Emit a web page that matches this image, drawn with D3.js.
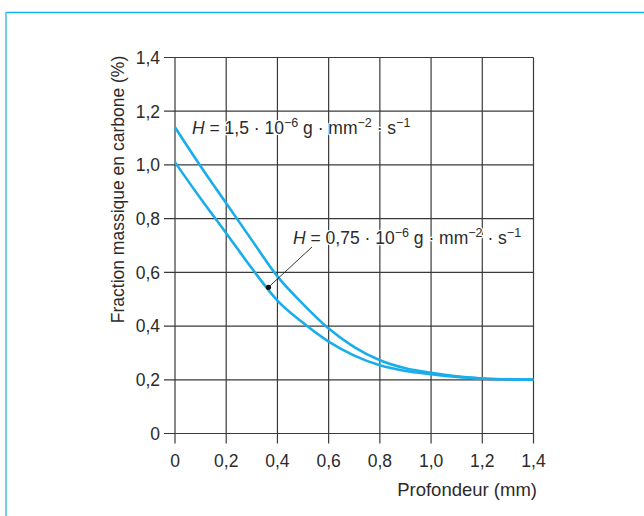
<!DOCTYPE html>
<html>
<head>
<meta charset="utf-8">
<script src="https://cdn.jsdelivr.net/npm/d3@7"></script>
<style>
  html, body { margin: 0; padding: 0; background: #fff; }
  svg { display: block; }
  text { font-family: "Liberation Sans", Arial, sans-serif; fill: #2b2b2b; }
</style>
</head>
<body>
<svg id="chart" width="644" height="516"></svg>
<script>
// Depth (mm) at which the carbon fraction is sampled
const depth = [0, 0.1, 0.2, 0.3, 0.4, 0.5, 0.6, 0.7, 0.8, 0.9, 1.0, 1.1, 1.2, 1.3, 1.4];
// Carbon mass fraction (%) for H = 1.5e-6 g/mm2/s
const carbonHigh = [1.14, 0.995, 0.857, 0.72, 0.585, 0.482, 0.391, 0.322, 0.273, 0.243, 0.226, 0.213, 0.205, 0.202, 0.201];
// Carbon mass fraction (%) for H = 0.75e-6 g/mm2/s
const carbonLow = [1.01, 0.875, 0.746, 0.615, 0.495, 0.412, 0.342, 0.29, 0.254, 0.233, 0.221, 0.211, 0.205, 0.202, 0.201];
// Axis ticks
const xTicks = [0, 0.2, 0.4, 0.6, 0.8, 1.0, 1.2, 1.4];
const yTicks = [0, 0.2, 0.4, 0.6, 0.8, 1.0, 1.2, 1.4];
const xTickLabels = ["0", "0,2", "0,4", "0,6", "0,8", "1,0", "1,2", "1,4"];
const yTickLabels = ["0", "0,2", "0,4", "0,6", "0,8", "1,0", "1,2", "1,4"];
// Depth on the low curve where the annotation leader starts
const leaderDepth = 0.365;

const svg = d3.select("#chart");
const fs = 17.5;

// outer frame
svg.append("line").attr("x1", 6).attr("y1", 12.5).attr("x2", 650).attr("y2", 12.5)
  .attr("stroke", "#10b1ec").attr("stroke-width", 1.4);
svg.append("line").attr("x1", 6).attr("y1", 12).attr("x2", 6).attr("y2", 520)
  .attr("stroke", "#4cc4f0").attr("stroke-width", 1.6);

const x = d3.scaleLinear().domain([0, 1.4]).range([175, 533.5]);
const y = d3.scaleLinear().domain([0, 1.4]).range([433.5, 57.5]);

const gridColor = "#3a3a3a";
const grid = svg.append("g");

// horizontal grid lines with ticks extending left
grid.selectAll("line.h").data(yTicks).join("line")
  .attr("x1", x(0) - 11).attr("x2", x(1.4))
  .attr("y1", d => y(d)).attr("y2", d => y(d))
  .attr("stroke", gridColor).attr("stroke-width", 1.2);
// vertical grid lines with ticks extending down
grid.selectAll("line.v").data(xTicks).join("line")
  .attr("y1", y(1.4)).attr("y2", y(0) + 10)
  .attr("x1", d => x(d)).attr("x2", d => x(d))
  .attr("stroke", gridColor).attr("stroke-width", 1.2);

// tick labels
svg.append("g").selectAll("text").data(yTicks).join("text")
  .attr("x", x(0) - 15).attr("y", d => y(d)).attr("dy", "0.36em")
  .attr("text-anchor", "end").attr("font-size", fs)
  .text((d, i) => yTickLabels[i]);
svg.append("g").selectAll("text").data(xTicks).join("text")
  .attr("x", d => x(d)).attr("y", 467)
  .attr("text-anchor", "middle").attr("font-size", fs)
  .text((d, i) => xTickLabels[i]);

// axis titles
svg.append("text").attr("x", 537).attr("y", 495.5)
  .attr("text-anchor", "end").attr("font-size", 18.5)
  .text("Profondeur (mm)");
svg.append("text")
  .attr("transform", `translate(124,${(57 + 322) / 2}) rotate(-90)`)
  .attr("text-anchor", "middle").attr("font-size", fs)
  .text("Fraction massique en carbone (%)");

// curves
const line = d3.line().x((d, i) => x(depth[i])).y(d => y(d)).curve(d3.curveMonotoneX);
[carbonHigh, carbonLow].forEach(series => {
  svg.append("path").attr("d", line(series))
    .attr("fill", "none").attr("stroke", "#19aee9").attr("stroke-width", 2.6)
    .attr("stroke-linejoin", "round");
});

// labels with superscripts and a white halo over the grid
function hLabel(px, py, coeff) {
  const t = svg.append("text").attr("x", px).attr("y", py).attr("font-size", fs)
    .attr("stroke", "#fff").attr("stroke-width", 2.5).attr("paint-order", "stroke")
    .attr("stroke-linejoin", "round");
  const parts = [
    { s: "H", italic: true },
    { s: " = " + coeff + " · 10" },
    { s: "−6", sup: true },
    { s: " g · mm" },
    { s: "−2", sup: true },
    { s: " · s" },
    { s: "−1", sup: true }
  ];
  let raised = false;
  parts.forEach(p => {
    const ts = t.append("tspan").text(p.s);
    if (p.italic) ts.attr("font-style", "italic");
    if (p.sup) { ts.attr("font-size", 12.5).attr("dy", raised ? 0 : -7); raised = true; }
    else { ts.attr("dy", raised ? 7 : 0); raised = false; }
  });
}
hLabel(192, 134, "1,5");
hLabel(293, 244, "0,75");

// leader from the low curve to its label
const lowAt = d3.scaleLinear().domain(depth).range(carbonLow);
const lx = x(leaderDepth), ly = y(lowAt(leaderDepth)) - 2;
svg.append("line").attr("x1", lx).attr("y1", ly).attr("x2", 312).attr("y2", 247)
  .attr("stroke", "#222").attr("stroke-width", 0.9);
svg.append("circle").attr("cx", lx).attr("cy", ly).attr("r", 2.6).attr("fill", "#111");
</script>
</body>
</html>
